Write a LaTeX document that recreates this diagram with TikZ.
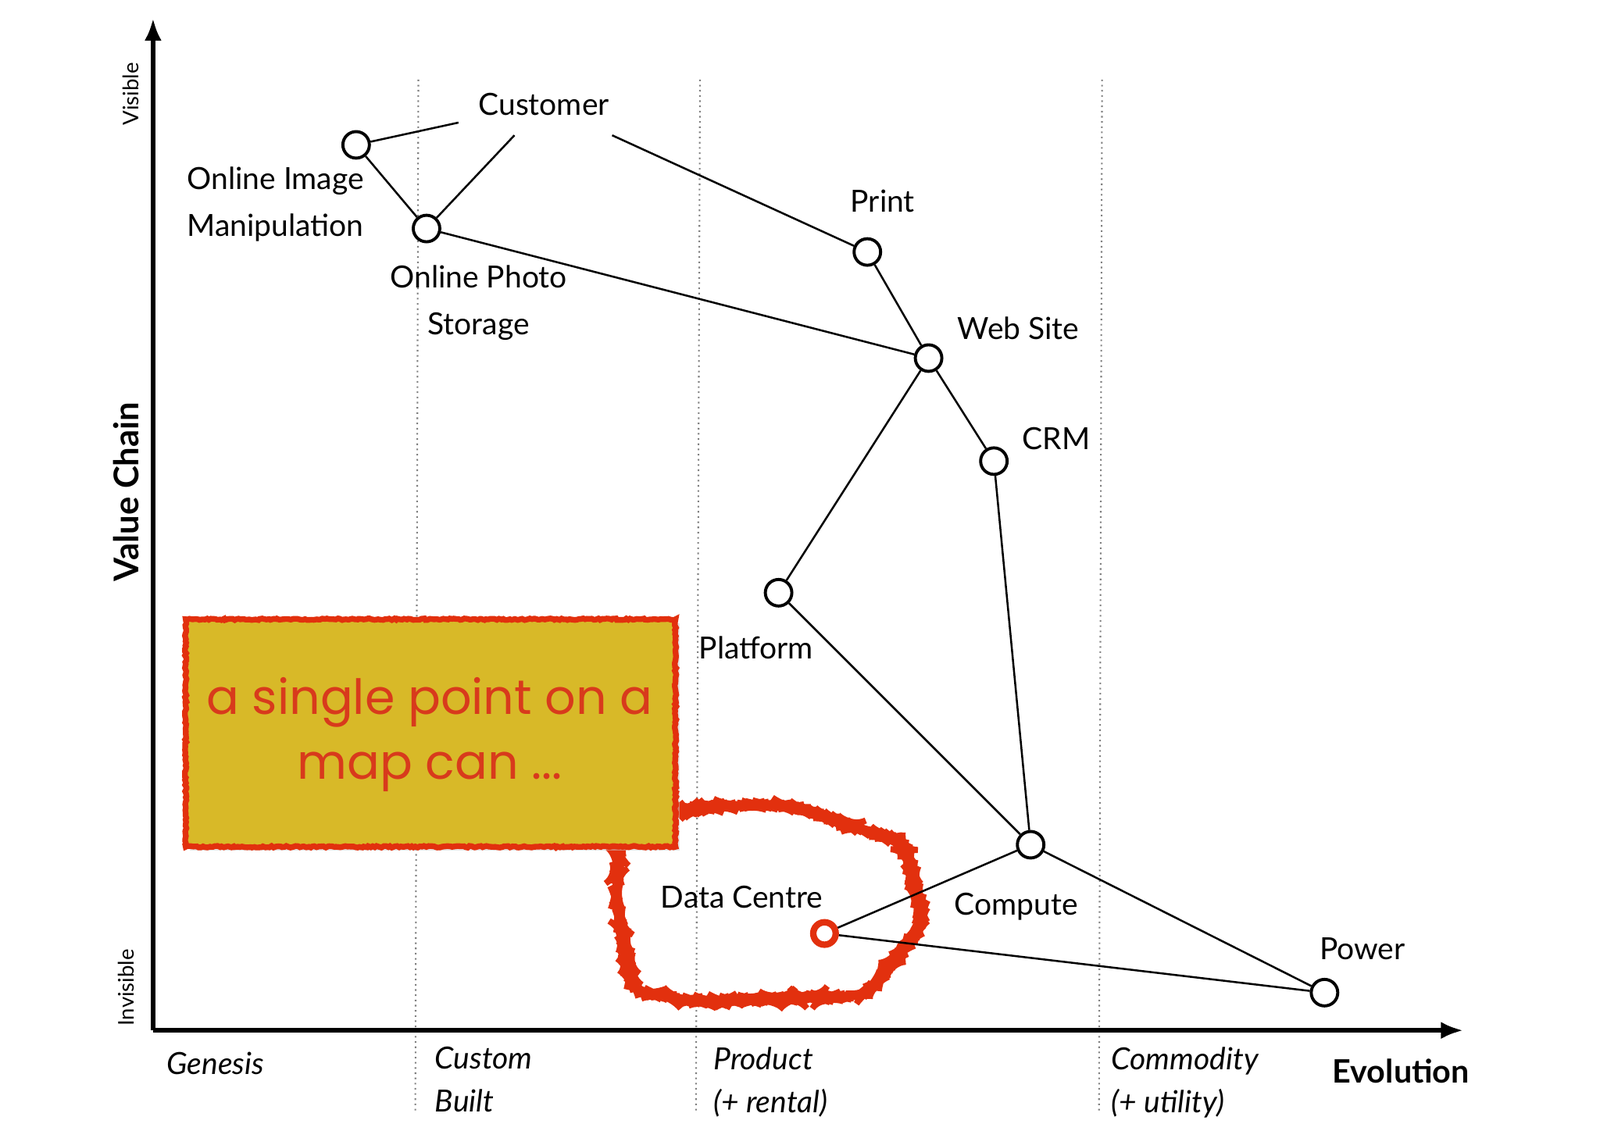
\documentclass[tikz,border=0pt]{standalone}
\usepackage{fontspec}
\setmainfont{Lato}
\newfontfamily\notefont{Poppins}
\usetikzlibrary{arrows.meta,decorations.pathmorphing}
\definecolor{boxyellow}{HTML}{D8B928}
\definecolor{crayon}{HTML}{E2300E}
\definecolor{notered}{HTML}{D83A1C}
\tikzset{
  comp/.style={circle,draw=black,line width=1.7pt,fill=white,minimum size=0.52cm,inner sep=0pt},
  link/.style={line width=1.1pt,black},
  lbl/.style={font=\fontsize{17}{21}\selectfont,align=center,inner sep=0pt},
  stagelbl/.style={font=\itshape\fontsize{17}{24}\selectfont,align=left,anchor=north west,inner sep=0pt},
  axisline/.style={line width=2.4pt,-{Latex[length=0.44cm,width=0.34cm]}},
  stageline/.style={gray,dotted,line width=0.9pt},
  rough/.style={decorate,decoration={random steps,segment length=1.2pt,amplitude=0.45pt}},
}
\begin{document}
\begin{tikzpicture}[x=0.02cm,y=-0.02cm]
\useasboundingbox (0,0) rectangle (1568,1108);
% stage separators
\coordinate (s1t) at (410,78); \coordinate (s1b) at (407,1090);
\coordinate (s2t) at (686,78); \coordinate (s2b) at (682,1090);
\coordinate (s3t) at (1080,78); \coordinate (s3b) at (1077,1090);
\draw[stageline] (s1t) -- (s1b);
\draw[stageline] (s2t) -- (s2b);
\draw[stageline] (s3t) -- (s3b);
% axes
\coordinate (origin) at (150,1010);
\coordinate (ytip) at (150,18);
\coordinate (xtip) at (1434,1010);
\draw[axisline] (origin) -- (ytip);
\draw[axisline] (origin) -- (xtip);
% axis labels
\node[rotate=90,font=\bfseries\fontsize{19}{22}\selectfont] (vc) at (124,482) {Value Chain};
\node[rotate=90,font=\fontsize{12}{14}\selectfont] (vis) at (128,92) {Visible};
\node[rotate=90,font=\fontsize{12}{14}\selectfont] (invis) at (124,968) {Invisible};
\node[font=\bfseries\fontsize{18}{22}\selectfont] (evo) at (1373,1050) {Evolution};
\node[stagelbl] (gen) at (163,1031) {Genesis};
\node[stagelbl] (cb) at (426,1026) {Custom\\Built};
\node[stagelbl] (prod) at (699,1026) {Product\\(+ rental)};
\node[stagelbl] (comm) at (1089,1026) {Commodity\\(+ utility)};
% components
\node[lbl,inner sep=11pt] (cust) at (533,102) {Customer};
\node[comp] (oim) at (349,142) {};
\node[comp] (ops) at (418,224) {};
\node[comp] (print) at (850,247) {};
\node[comp] (web) at (910,351) {};
\node[comp] (crm) at (974,452) {};
\node[comp] (plat) at (763,581) {};
\node[comp] (comp) at (1010,828) {};
\node[comp] (power) at (1298,973) {};
\coordinate (dc) at (808,915);
% edges
\draw[link] (cust) -- (oim);
\draw[link] (cust) -- (ops);
\draw[link] (cust) -- (print);
\draw[link] (oim) -- (ops);
\draw[link] (ops) -- (web);
\draw[link] (print) -- (web);
\draw[link] (web) -- (crm);
\draw[link] (web) -- (plat);
\draw[link] (crm) -- (comp);
\draw[link] (plat) -- (comp);
\draw[link] (comp) -- (power);
% labels
\node[lbl] (loim) at (270,200) {Online Image\\[5pt]Manipulation};
\node[lbl] (lops) at (469,297) {Online Photo\\[5pt]Storage};
\node[lbl] (lprint) at (865,197) {Print};
\node[lbl] (lweb) at (998,322) {Web Site};
\node[lbl] (lcrm) at (1035,430) {CRM};
\node[lbl] (lplat) at (741,635) {Platform};
\node[lbl] (ldc) at (727,879) {Data Centre};
\node[lbl] (lcomp) at (996,889) {Compute};
\node[lbl] (lpower) at (1335,930) {Power};
% red highlight
\draw[crayon,line width=3.4pt,rough,rounded corners=8pt]
  (640,797) -- (720,789) -- (772,789) -- (886,826) -- (905,905) -- (848,976)
  -- (680,982) -- (620,970) -- (603,880) -- (607,820) -- cycle;
\node[circle,draw=crayon,line width=3.6pt,minimum size=0.44cm,inner sep=0pt,fill=white] (dcmark) at (dc) {};
\draw[link] (dcmark) -- (comp);
\draw[link] (dcmark) -- (power);
% note box
\fill[gray!40,opacity=0.5] (186,611) rectangle (666,834);
\draw[crayon,line width=3.2pt,fill=boxyellow,rough] (182,607) rectangle (662,830);
\node[font=\notefont\fontsize{27}{36}\selectfont,text=notered,align=center] (note) at (421,720) {a single point on a\\map can ...};
\end{tikzpicture}
\end{document}
